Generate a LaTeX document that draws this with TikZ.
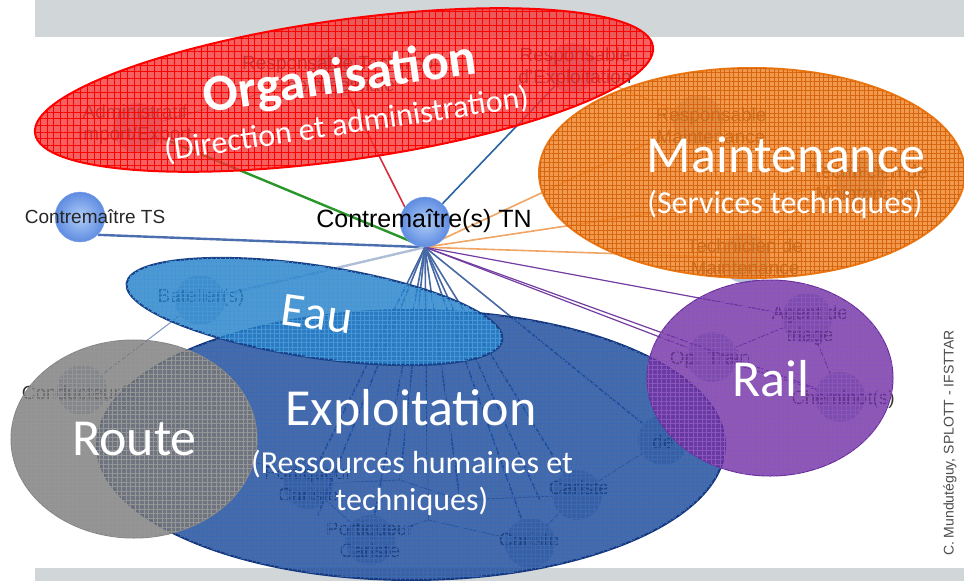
\documentclass[tikz,border=0pt]{standalone}
\usepackage{fontspec}
\setmainfont{Liberation Sans}
\newfontfamily\calibfont{Carlito}
\usetikzlibrary{patterns.meta,backgrounds}

\definecolor{bargray}{RGB}{209,214,217}
\definecolor{nodelight}{RGB}{175,205,248}
\definecolor{nodeblue}{RGB}{95,140,225}
\definecolor{ghostblue}{RGB}{90,120,175}
\definecolor{linkblue}{RGB}{70,105,165}
\definecolor{tsline}{RGB}{75,110,175}
\definecolor{admline}{RGB}{40,150,40}
\definecolor{rtcline}{RGB}{215,45,60}
\definecolor{rexpline}{RGB}{40,100,165}
\definecolor{mntedge}{RGB}{240,165,100}
\definecolor{railedge}{RGB}{115,60,160}
\definecolor{batline}{RGB}{175,190,215}
\definecolor{orgfill}{RGB}{242,58,58}
\definecolor{orgline}{RGB}{255,0,0}
\definecolor{mntfill}{RGB}{238,128,32}
\definecolor{mntline}{RGB}{236,120,20}
\definecolor{mntmesh}{RGB}{215,100,15}
\definecolor{eaufill}{RGB}{35,128,200}
\definecolor{eauline}{RGB}{25,65,135}
\definecolor{eaumesh}{RGB}{70,150,215}
\definecolor{expfill}{RGB}{25,70,148}
\definecolor{expline}{RGB}{20,55,125}
\definecolor{expmesh}{RGB}{60,105,180}
\definecolor{routefill}{RGB}{120,120,120}
\definecolor{routemesh}{RGB}{150,150,150}
\definecolor{railfill}{RGB}{112,48,160}
\definecolor{railline}{RGB}{105,45,155}
\definecolor{railmesh}{RGB}{140,85,190}

\begin{document}
\begin{tikzpicture}[x=1pt,y=-1pt,
    person/.style={circle,minimum size=50pt,inner sep=0pt,draw=nodeblue!80,line width=.4pt,
      shading=radial,inner color=nodelight,outer color=nodeblue},
    ghost/.style={circle,minimum size=50pt,inner sep=0pt,fill=ghostblue,fill opacity=.45},
    tag/.style={font=\fontsize{19}{22}\selectfont,text=black!80,align=center,inner sep=0pt},
    link/.style={line width=1.6pt,draw=linkblue},
    thin link/.style={line width=1pt,draw=linkblue!70},
    zone/.style={line width=2pt,fill opacity=.8},
    mesh/.style n args={3}{postaction={fill opacity=#3,pattern={Hatch[distance=#2,line width=.6pt]},pattern color=#1}},
    bigname/.style={text=white,inner sep=0pt,anchor=base,font=\calibfont\fontsize{52}{56}\selectfont},
    subname/.style={text=white,inner sep=0pt,align=center,font=\calibfont\fontsize{32}{37}\selectfont}]
      \useasboundingbox (0,0) rectangle (964,581);

      % people of the network
      \node[person] (tn) at (425,222) {};
      \node[person] (ts) at (80,217) {};
      \node[ghost] (adm) at (138,128) {};
      \node[ghost] (rtc) at (337,72) {};
      \node[ghost] (rexp) at (572,68) {};
      \node[ghost] (rmnt) at (698,120) {};
      \node[ghost] (tec1) at (860,182) {};
      \node[ghost] (tec2) at (745,258) {};
      \node[ghost] (bat) at (200,300) {};
      \node[ghost] (cond) at (82,390) {};
      \node[ghost] (pc1) at (308,484) {};
      \node[ghost] (pc2) at (370,540) {};
      \node[ghost] (car1) at (577,495) {};
      \node[ghost] (car2) at (530,543) {};
      \node[ghost] (otrain) at (712,357) {};
      \node[ghost] (agent) at (807,318) {};
      \node[ghost] (chem) at (840,397) {};
      \node[ghost] (den) at (663,440) {};
      \coordinate (h1) at (318,515);
      \coordinate (h2) at (400,480);
      \coordinate (h3) at (428,520);
      \coordinate (h4) at (460,500);
      \coordinate (h5) at (540,500);

      \node[tag,text=black,font=\fontsize{25}{28}\selectfont] (tn-t) at (424,221) {Contremaître(s) TN};
      \node[tag,text=black!85] (ts-t) at (95,217) {Contremaître TS};
      \node[tag] (adm-t) at (135,125) {Administratif\\Import/Export};
      \node[tag] (rtc-t) at (341,74) {Responsable Technico-\\commerciale};
      \node[tag] (rexp-t) at (575,68) {Responsable\\d'Exploitation};
      \node[tag] (rmnt-t) at (711,126) {Responsable\\Maintenance};
      \node[tag] (tec1-t) at (870,183) {Technicien de\\Maintenance};
      \node[tag] (tec2-t) at (745,257) {Technicien de\\Maintenance};
      \node[tag] (bat-t) at (201,298) {Batelier(s)};
      \node[tag] (cond-t) at (82,395) {Conducteur(s)};
      \node[tag] (pc1-t) at (308,484) {Portiqueur\\Cariste};
      \node[tag] (pc2-t) at (370,540) {Portiqueur\\Cariste};
      \node[tag] (car1-t) at (579,488) {Cariste};
      \node[tag] (car2-t) at (529,540) {Cariste};
      \node[tag] (otrain-t) at (710,360) {Op. Train};
      \node[tag] (agent-t) at (810,326) {Agent de\\triage};
      \node[tag] (chem-t) at (843,400) {Cheminot(s)};
      \node[tag] (den-t) at (663,442) {de};

      \begin{scope}[on background layer]
        \fill[bargray] (35,0) rectangle (964,37);
        \fill[bargray] (35,568) rectangle (964,581);
        \draw[link,draw=tsline,line width=2.4pt] (tn.south) -- (ts.south east);
        \draw[link,draw=admline,line width=2.4pt] (tn.south) -- (adm);
        \draw[link,draw=rtcline] (tn.south) -- (rtc);
        \draw[link,draw=rexpline] (tn) -- (rexp);
        \foreach \t in {rmnt,tec1,tec2}
          \draw[link,draw=mntedge] (tn.south) -- (\t);
        \foreach \t in {otrain,agent,chem}
          \draw[link,draw=railedge,line width=1.2pt] (tn.south) -- (\t);
        \draw[link,draw=batline,line width=2.4pt] (tn.south) -- (bat);
        \foreach \t in {pc1,h1,pc2,h2,h3,h4,car2,h5,car1,den}
          \draw[link] (tn.south) -- (\t);
        \draw[thin link] (adm) -- (rtc);
        \draw[thin link,draw=mntedge] (rexp) -- (rmnt) -- (tec1) -- (tec2) -- (rmnt);
        \draw[thin link,draw=railedge] (otrain) -- (agent) -- (chem) -- (otrain);
        \draw[thin link] (bat) -- (cond) -- (pc1) -- (pc2) -- (h3) -- (car2) -- (car1) -- (den);
        \draw[thin link] (pc1) -- (h2) -- (h4) -- (car1);
      \end{scope}

      % groups
      \path[zone,draw=orgline,fill=orgfill,mesh={orgline}{6.7pt}{.6},rotate around={8:(344,90)}]
        (344,90) ellipse [x radius=312,y radius=70];
      \path[zone,draw=mntline,fill=mntfill,mesh={mntmesh}{4.5pt}{.25}]
        (752,173) ellipse [x radius=213,y radius=105];
      \path[zone,draw=expline,fill=expfill,mesh={expmesh}{4.5pt}{.3}]
        (411,445) ellipse [x radius=314,y radius=135];
      \path[zone,draw=eauline,fill=eaufill,mesh={eaumesh}{4.5pt}{.3},rotate around={-8.6:(314.5,311.5)}]
        (314.5,311.5) ellipse [x radius=190,y radius=46];
      \path[zone,draw=routefill!90,fill=routefill,line width=1pt,mesh={routemesh}{4.5pt}{.3}]
        (134,439) ellipse [x radius=123,y radius=99];
      \path[zone,draw=railline,fill=railfill,line width=1pt,mesh={railmesh}{4.5pt}{.3}]
        (770,378) ellipse [x radius=123,y radius=98];

      \node[bigname,font=\calibfont\bfseries\fontsize{52}{56}\selectfont,rotate=8] (org-n) at (342,93) {Organisation};
      \node[subname,anchor=base,rotate=8.5] (org-s) at (348,134) {(Direction et administration)};
      \node[bigname] (mnt-n) at (786,172) {Maintenance};
      \node[subname,anchor=base] (mnt-s) at (785,213) {(Services techniques)};
      \node[bigname,font=\calibfont\fontsize{48}{52}\selectfont,rotate=-8] (eau-n) at (315,329) {Eau};
      \node[bigname] (route-n) at (134.5,455) {Route};
      \node[bigname] (exp-n) at (411,425) {Exploitation};
      \node[subname] (exp-s) at (412,483) {(Ressources humaines et\\techniques)};
      \node[bigname] (rail-n) at (770.5,396) {Rail};

      \node[rotate=90,text=black!70,font=\fontsize{14}{16}\selectfont] (credit) at (950,443) {C. Mundutéguy, SPLOTT - IFSTTAR};
    \end{tikzpicture}
\end{document}
